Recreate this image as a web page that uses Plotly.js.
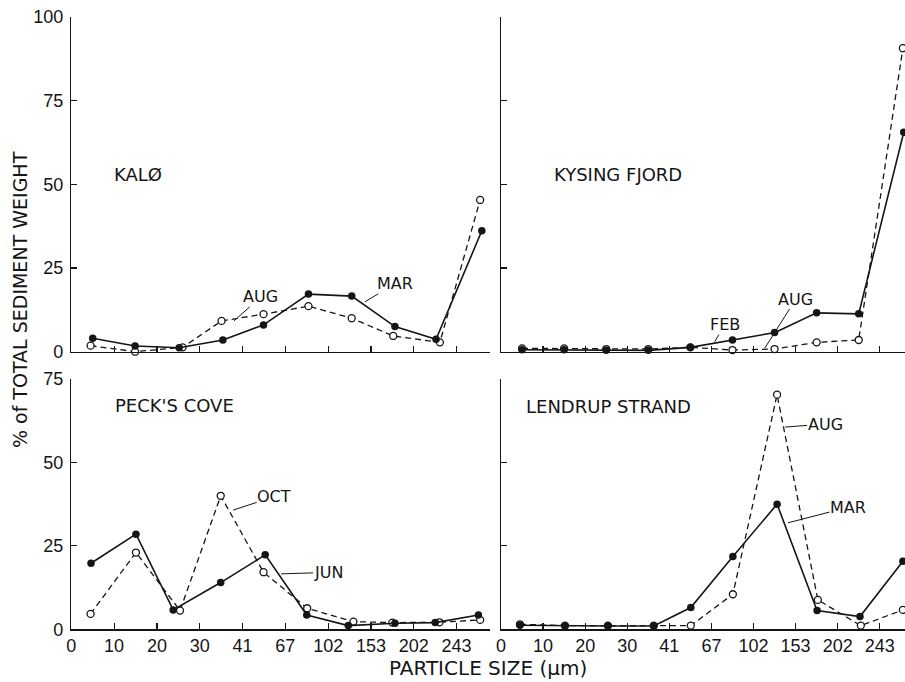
<!DOCTYPE html>
<html>
<head>
<meta charset="utf-8">
<script src="https://cdn.plot.ly/plotly-3.0.1.min.js"></script>
<style>html,body{margin:0;padding:0;background:#fff}#chart{width:905px;height:682px}</style>
</head>
<body>
<div id="chart"></div>
<script>
// ---- tick labels (particle size classes, µm) ----
var tickPos = [0, 1, 2, 3, 4, 5, 6, 7, 8, 9];
var tickLabels = ["0", "10", "20", "30", "41", "67", "102", "153", "202", "243"];

// ---- Kalø ----
var kaloMarX = [0.5, 1.49, 2.52, 3.54, 4.49, 5.54, 6.55, 7.56, 8.52, 9.59];
var kaloMarY = [4.0, 1.7, 1.2, 3.5, 8.0, 17.2, 16.6, 7.5, 3.7, 36.1];
var kaloAugX = [0.45, 1.49, 2.6, 3.51, 4.49, 5.54, 6.55, 7.52, 8.61, 9.55];
var kaloAugY = [1.8, 0.0, 1.3, 9.2, 11.2, 13.6, 10.0, 4.7, 2.8, 45.3];

// ---- Kysing Fjord ----
var kysFebX = [0.5, 1.5, 2.5, 3.5, 4.5, 5.5, 6.5, 7.5, 8.5, 9.57];
var kysFebY = [0.6, 0.6, 0.4, 0.4, 1.3, 3.5, 5.7, 11.6, 11.3, 65.5];
var kysAugX = [0.5, 1.5, 2.5, 3.5, 4.5, 5.5, 6.5, 7.5, 8.5, 9.55];
var kysAugY = [1.0, 1.0, 0.8, 0.8, 1.3, 0.5, 0.8, 2.8, 3.5, 90.6];

// ---- Peck's Cove ----
var peckJunX = [0.46, 1.51, 2.38, 3.49, 4.53, 5.5, 6.47, 7.56, 8.5, 9.51];
var peckJunY = [19.8, 28.5, 5.8, 14.0, 22.3, 4.3, 1.1, 1.8, 2.0, 4.3];
var peckOctX = [0.45, 1.51, 2.54, 3.49, 4.49, 5.51, 6.59, 7.5, 8.6, 9.55];
var peckOctY = [4.6, 23.0, 5.6, 40.0, 17.1, 6.3, 2.3, 2.0, 2.1, 2.8];

// ---- Lendrup Strand ----
var lenMarX = [0.45, 1.52, 2.54, 3.63, 4.51, 5.51, 6.56, 7.51, 8.53, 9.55];
var lenMarY = [1.2, 1.0, 1.0, 1.0, 6.5, 21.8, 37.5, 5.6, 3.8, 20.4];
var lenAugX = [0.45, 1.52, 2.54, 3.63, 4.51, 5.51, 6.56, 7.53, 8.55, 9.55];
var lenAugY = [1.5, 1.1, 1.1, 1.1, 1.1, 10.5, 70.3, 8.8, 1.1, 5.8];

var INK = '#151515';
function solid(x, y, xa, ya) {
  return {x: x, y: y, xaxis: xa, yaxis: ya, type: 'scatter', mode: 'lines+markers',
    line: {color: INK, width: 1.6}, marker: {color: INK, size: 7.5, symbol: 'circle'},
    cliponaxis: false, hoverinfo: 'skip', showlegend: false};
}
function dashed(x, y, xa, ya) {
  return {x: x, y: y, xaxis: xa, yaxis: ya, type: 'scatter', mode: 'lines+markers',
    line: {color: INK, width: 1.3, dash: '6px,4px'},
    marker: {color: '#ffffff', size: 7, symbol: 'circle', line: {color: INK, width: 1.3}},
    cliponaxis: false, hoverinfo: 'skip', showlegend: false};
}

var data = [
  dashed(kaloAugX, kaloAugY, 'x', 'y'), solid(kaloMarX, kaloMarY, 'x', 'y'),
  dashed(kysAugX, kysAugY, 'x2', 'y2'), solid(kysFebX, kysFebY, 'x2', 'y2'),
  dashed(peckOctX, peckOctY, 'x3', 'y3'), solid(peckJunX, peckJunY, 'x3', 'y3'),
  dashed(lenAugX, lenAugY, 'x4', 'y4'), solid(lenMarX, lenMarY, 'x4', 'y4')
];

var tickFont = {family: 'Liberation Sans, Arial, sans-serif', size: 18, color: INK};
function xax(domain, range, anchor, labels) {
  return {domain: domain, range: range, anchor: anchor, showline: true, linecolor: INK, linewidth: 1.5,
    ticks: 'inside', ticklen: 6, tickwidth: 1.2, tickcolor: INK, showgrid: false, zeroline: false,
    tickmode: 'array', tickvals: tickPos, ticktext: tickLabels, showticklabels: labels,
    tickfont: tickFont, ticklabelstandoff: 0, fixedrange: true};
}
function yax(domain, range, anchor, vals, labels) {
  return {domain: domain, range: range, anchor: anchor, showline: true, linecolor: INK, linewidth: 1.5,
    ticks: 'inside', ticklen: 6, tickwidth: 1.2, tickcolor: INK, showgrid: false, zeroline: false,
    tickmode: 'array', tickvals: vals, showticklabels: labels, tickfont: tickFont,
    ticklabelstandoff: 3, fixedrange: true};
}

var XL = [0.0788, 0.5414], XR = [0.5536, 1.0];
var YT = [0.4843, 0.9755], YB = [0.0773, 0.4443];

var lblFont = {family: 'DejaVu Sans, sans-serif', size: 18, color: INK};
var serFont = {family: 'DejaVu Sans, sans-serif', size: 16, color: INK};
function panelLabel(text, xref, yref, x, y) {
  return {text: text, xref: xref, yref: yref, x: x, y: y, showarrow: false, font: lblFont,
    xanchor: 'center', yanchor: 'middle'};
}
function seriesLabel(text, xref, yref, x, y, ax, ay) {
  return {text: text, xref: xref, yref: yref, x: x, y: y, ax: ax, ay: ay, showarrow: true,
    arrowhead: 0, arrowwidth: 1, arrowcolor: INK, standoff: 0, startstandoff: 0,
    font: serFont, xanchor: 'center', yanchor: 'middle', borderpad: 0};
}

var layout = {
  width: 905, height: 682, margin: {l: 0, r: 0, t: 0, b: 0},
  paper_bgcolor: '#ffffff', plot_bgcolor: 'rgba(0,0,0,0)',
  xaxis: xax(XL, [0, 9.78], 'y', false), yaxis: yax(YT, [0, 100], 'x', [0, 25, 50, 75, 100], true),
  xaxis2: xax(XR, [0, 9.6], 'y2', false), yaxis2: yax(YT, [0, 100], 'x2', [0, 25, 50, 75, 100], false),
  xaxis3: xax(XL, [0, 9.78], 'y3', true), yaxis3: yax(YB, [0, 75], 'x3', [0, 25, 50, 75], true),
  xaxis4: xax(XR, [0, 9.6], 'y4', true), yaxis4: yax(YB, [0, 75], 'x4', [0, 25, 50, 75], false),
  annotations: [
    panelLabel('KALØ', 'x', 'y', 1.55, 53),
    panelLabel('KYSING FJORD', 'x2', 'y2', 2.78, 53),
    panelLabel("PECK'S COVE", 'x3', 'y3', 2.42, 67.0),
    panelLabel('LENDRUP STRAND', 'x4', 'y4', 2.56, 66.7),
    seriesLabel('AUG', 'x', 'y', 3.80, 9.2, 27, -24),
    seriesLabel('MAR', 'x', 'y', 6.86, 14.9, 30, -18),
    seriesLabel('AUG', 'x2', 'y2', 6.27, 1.1, 31, -49),
    seriesLabel('FEB', 'x2', 'y2', 5.08, 3.0, 10, -17),
    seriesLabel('OCT', 'x3', 'y3', 3.78, 35.7, 41, -13.5),
    seriesLabel('JUN', 'x3', 'y3', 4.90, 16.6, 47, -1.5),
    seriesLabel('AUG', 'x4', 'y4', 6.75, 60.6, 40, -3),
    seriesLabel('MAR', 'x4', 'y4', 6.82, 31.9, 60, -15.5),
    {text: '% of TOTAL SEDIMENT WEIGHT', xref: 'paper', yref: 'paper', x: 0.0221, y: 0.560,
      textangle: -90, showarrow: false, font: {family: 'DejaVu Sans, sans-serif', size: 19, color: INK},
      xanchor: 'center', yanchor: 'middle'},
    {text: 'PARTICLE SIZE (μm)', xref: 'paper', yref: 'paper', x: 0.539, y: 0.0205,
      showarrow: false, font: {family: 'DejaVu Sans, sans-serif', size: 20, color: INK},
      xanchor: 'center', yanchor: 'middle'}
  ]
};

Plotly.newPlot('chart', data, layout, {staticPlot: true, displayModeBar: false});
</script>
</body>
</html>
